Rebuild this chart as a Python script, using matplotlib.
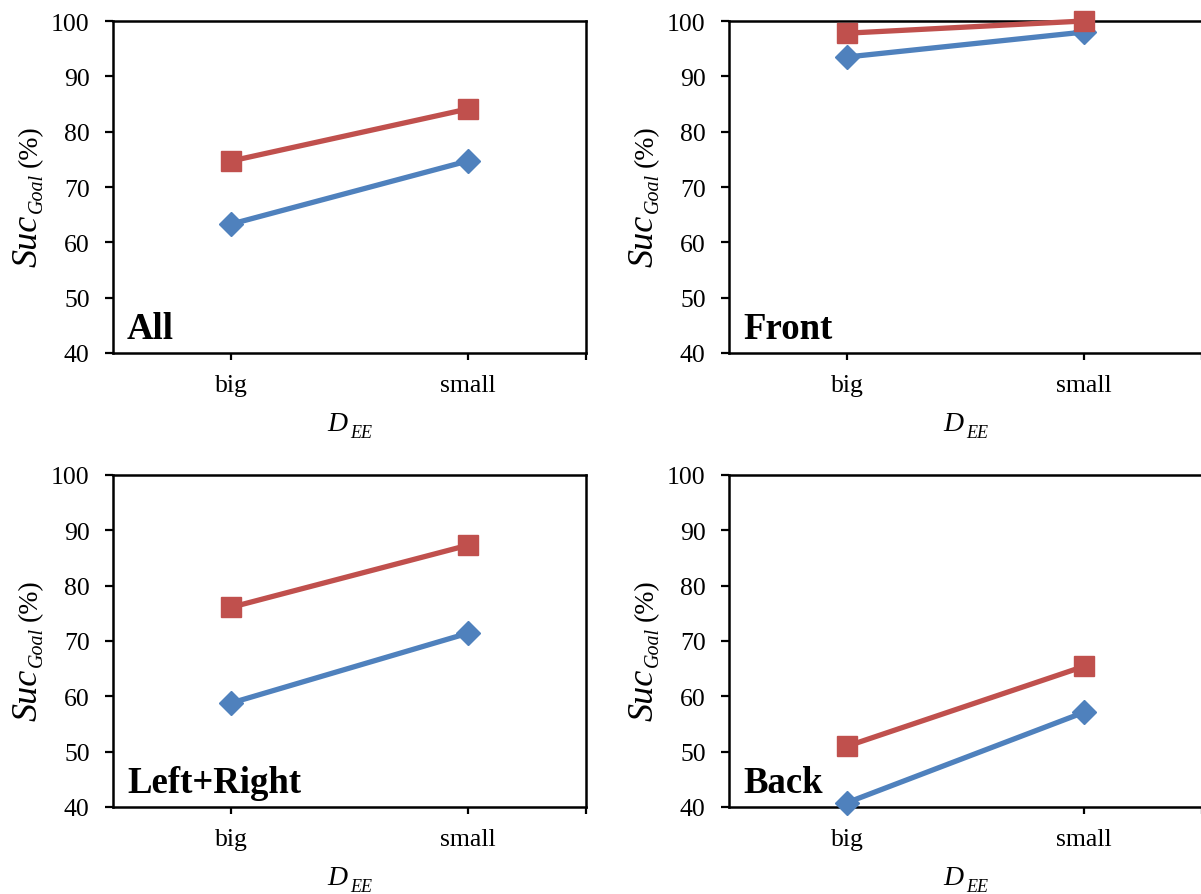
import matplotlib
matplotlib.use("Agg")
import matplotlib.pyplot as plt

# --- data ---------------------------------------------------------------
categories = ["big", "small"]
panel_names = ["All", "Front", "Left+Right", "Back"]

blue_all = [63.3, 74.7]
red_all = [74.7, 84.1]
blue_front = [93.5, 98.0]
red_front = [97.8, 100.0]
blue_lr = [58.8, 71.4]
red_lr = [76.1, 87.3]
blue_back = [40.8, 57.1]
red_back = [51.0, 65.4]

y_ticks = [40, 50, 60, 70, 80, 90, 100]

blue_series = [blue_all, blue_front, blue_lr, blue_back]
red_series = [red_all, red_front, red_lr, red_back]

# --- style --------------------------------------------------------------
BLUE = "#4F81BD"
RED = "#C0504D"
W, H = 1201, 895
plt.rcParams["font.family"] = ["Liberation Serif", "DejaVu Serif"]

fig = plt.figure(figsize=(W / 100, H / 100), dpi=100)


def fpos(x, y):
    """Pixel position (origin top-left) -> figure fraction."""
    return x / W, 1 - y / H


# plot boxes in pixels: left, top, right, bottom
boxes = [(113, 22, 586, 354), (729, 22, 1202, 354),
         (113, 476, 586, 808), (729, 476, 1202, 808)]

for name, blue, red, (l, t, r, b) in zip(panel_names, blue_series, red_series, boxes):
    x0, y0 = fpos(l, b)
    ax = fig.add_axes([x0, y0, (r - l) / W, (b - t) / H])
    xs = list(range(len(categories)))
    ax.plot(xs, blue, color=BLUE, lw=3.8, marker="D", ms=12.5,
            clip_on=False, zorder=3)
    ax.plot(xs, red, color=RED, lw=3.8, marker="s", ms=14,
            clip_on=False, zorder=4)
    ax.set_xlim(-0.5, 1.5)
    ax.set_ylim(40, 100)
    ax.set_yticks(y_ticks)
    ax.set_xticks([0, 1, 1.5])
    ax.set_xticklabels(categories + [""])
    for sp in ax.spines.values():
        sp.set_linewidth(1.8)
        sp.set_color("black")
    ax.tick_params(axis="y", direction="out", length=5.8, width=1.6,
                   pad=11, labelsize=18.5)
    ax.tick_params(axis="x", direction="out", length=5, width=1.6,
                   pad=10, labelsize=18.5)

    # panel title inside the plot area
    ax.text(*fpos(l + 14, b - 15), name, transform=fig.transFigure,
            fontsize=26.5, fontweight="bold", ha="left", va="baseline")

    # y label: Suc_Goal (%)
    cy = (t + b) / 2
    common = dict(rotation=90, rotation_mode="anchor", ha="left", va="baseline")
    fig.text(*fpos(l - 76, cy + 79), "Suc", fontsize=26, style="italic", **common)
    fig.text(*fpos(l - 71, cy + 25), "Goal", fontsize=14.4, style="italic", **common)
    fig.text(*fpos(l - 76, cy - 21), "(%)", fontsize=20, **common)

    # x label: D_EE, centred under the category span
    cx = l + 236.5
    fig.text(*fpos(cx - 22, b + 77), "D", fontsize=20, style="italic",
             ha="left", va="baseline")
    fig.text(*fpos(cx + 0.5, b + 84), "EE", fontsize=13, style="italic",
             ha="left", va="baseline")

fig.savefig("out.png", dpi=100)
